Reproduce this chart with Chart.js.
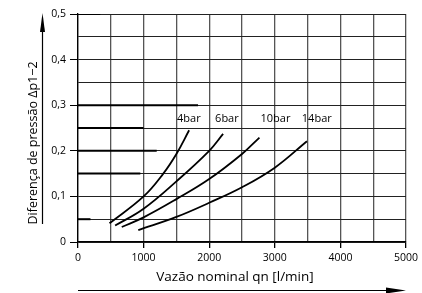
<!DOCTYPE html>
<html>
<head>
<meta charset="utf-8">
<script src="https://cdn.jsdelivr.net/npm/chart.js@4"></script>
<style>
html,body{margin:0;padding:0;background:#fff;}
#wrap{width:422px;height:293px;}
</style>
</head>
<body>
<div id="wrap"><canvas id="c" width="422" height="293"></canvas></div>
<script>
// ---- data ----
const seriesNames = ['4bar', '6bar', '10bar', '14bar'];
const flow4  = [480, 1000, 1300, 1500, 1694];
const dp4    = [0.041, 0.1, 0.15, 0.193, 0.245];
const flow6  = [566, 1000, 1500, 2000, 2212];
const dp6    = [0.036, 0.073, 0.133, 0.2, 0.237];
const flow10 = [667, 1000, 1500, 2000, 2500, 2766];
const dp10   = [0.033, 0.054, 0.094, 0.138, 0.193, 0.229];
const flow14 = [919, 1500, 2000, 2500, 3000, 3490];
const dp14   = [0.026, 0.055, 0.086, 0.12, 0.163, 0.221];
const labelFlow = [1690, 2270, 3010, 3640];
const labelDp = 0.27;
// darker grid segments seen on the left of some horizontal grid lines
const emphDp  = [0.5, 0.3, 0.25, 0.2, 0.15, 0.05];
const emphEnd = [340, 1830, 1000, 1200, 950, 190];
const xTitle = 'Vazão nominal qn [l/min]';
const yTitle = 'Diferença de pressão Δp1−2';

const toPts = (xs, ys) => xs.map((x, i) => ({x: x, y: ys[i]}));
const curves = [[flow4, dp4], [flow6, dp6], [flow10, dp10], [flow14, dp14]];

const datasets = [];
emphDp.forEach((d, i) => {
  datasets.push({
    data: [{x: 0, y: d}, {x: emphEnd[i], y: d}],
    borderColor: '#000', borderWidth: 2, pointRadius: 0, tension: 0
  });
});
curves.forEach((c, i) => {
  datasets.push({
    label: seriesNames[i],
    data: toPts(c[0], c[1]),
    borderColor: '#000', borderWidth: 1.8, pointRadius: 0,
    tension: 0.4
  });
});

const FONT = '"Open Sans", "DejaVu Sans", sans-serif';

const decor = {
  id: 'decor',
  afterDatasetsDraw(chart) {
    const ctx = chart.ctx, xs = chart.scales.x, ys = chart.scales.y, a = chart.chartArea;
    ctx.save();
    ctx.fillStyle = '#000';
    ctx.font = '11px ' + FONT;
    ctx.textAlign = 'center';
    ctx.textBaseline = 'middle';
    seriesNames.forEach((n, i) => {
      ctx.fillText(n, xs.getPixelForValue(labelFlow[i]), ys.getPixelForValue(labelDp));
    });
    // axis titles
    ctx.font = '13.5px ' + FONT;
    ctx.fillText(xTitle, 235, 277);
    ctx.save();
    ctx.translate(33, 143);
    ctx.rotate(-Math.PI / 2);
    ctx.font = '12.5px ' + FONT;
    ctx.fillText(yTitle, 0, 0);
    ctx.restore();
    // arrows
    ctx.strokeStyle = '#000';
    ctx.lineWidth = 1.2;
    ctx.beginPath();
    ctx.moveTo(a.left, 290.5); ctx.lineTo(a.right - 10, 290.5);
    ctx.stroke();
    ctx.beginPath();
    ctx.moveTo(a.right, 290.5); ctx.lineTo(a.right - 20, 287.5); ctx.lineTo(a.right - 20, 293.5);
    ctx.closePath(); ctx.fill();
    ctx.beginPath();
    ctx.moveTo(42.5, 224); ctx.lineTo(42.5, 25);
    ctx.stroke();
    ctx.beginPath();
    ctx.moveTo(42.5, 13); ctx.lineTo(40, 32); ctx.lineTo(45, 32);
    ctx.closePath(); ctx.fill();
    ctx.restore();
  }
};

new Chart(document.getElementById('c'), {
  type: 'line',
  data: {datasets: datasets},
  options: {
    responsive: false,
    animation: false,
    events: [],
    layout: {padding: {top: 14, right: 15, left: 0, bottom: 0}},
    plugins: {legend: {display: false}, tooltip: {enabled: false}, title: {display: false}},
    scales: {
      x: {
        type: 'linear', min: 0, max: 5000,
        afterFit(s) { s.height = 51; },
        ticks: {
          stepSize: 500, padding: 4, color: '#000',
          font: {family: FONT, size: 10.5},
          maxRotation: 0, autoSkip: false,
          callback: v => (v % 1000 === 0 ? String(v) : '')
        },
        grid: {
          color: '#555', lineWidth: 1.3, tickLength: 6,
          tickColor: c => (c.tick && c.tick.value % 1000 === 0 ? '#000' : 'rgba(0,0,0,0)')
        },
        border: {color: '#000', width: 1.3}
      },
      y: {
        type: 'linear', min: 0, max: 0.5,
        afterFit(s) { s.width = 78; },
        ticks: {
          stepSize: 0.05, padding: 4, color: '#000',
          font: {family: FONT, size: 10.5},
          autoSkip: false,
          callback: v => {
            const k = Math.round(v * 100);
            if (k % 10 !== 0) return '';
            return k === 0 ? '0' : (k / 100).toFixed(1).replace('.', ',');
          }
        },
        grid: {
          color: '#222', lineWidth: 1, tickLength: 8,
          tickColor: c => (c.tick && Math.round(c.tick.value * 100) % 10 === 0 ? '#000' : 'rgba(0,0,0,0)')
        },
        border: {color: '#000', width: 1.3}
      }
    }
  },
  plugins: [decor]
});
</script>
</body>
</html>
